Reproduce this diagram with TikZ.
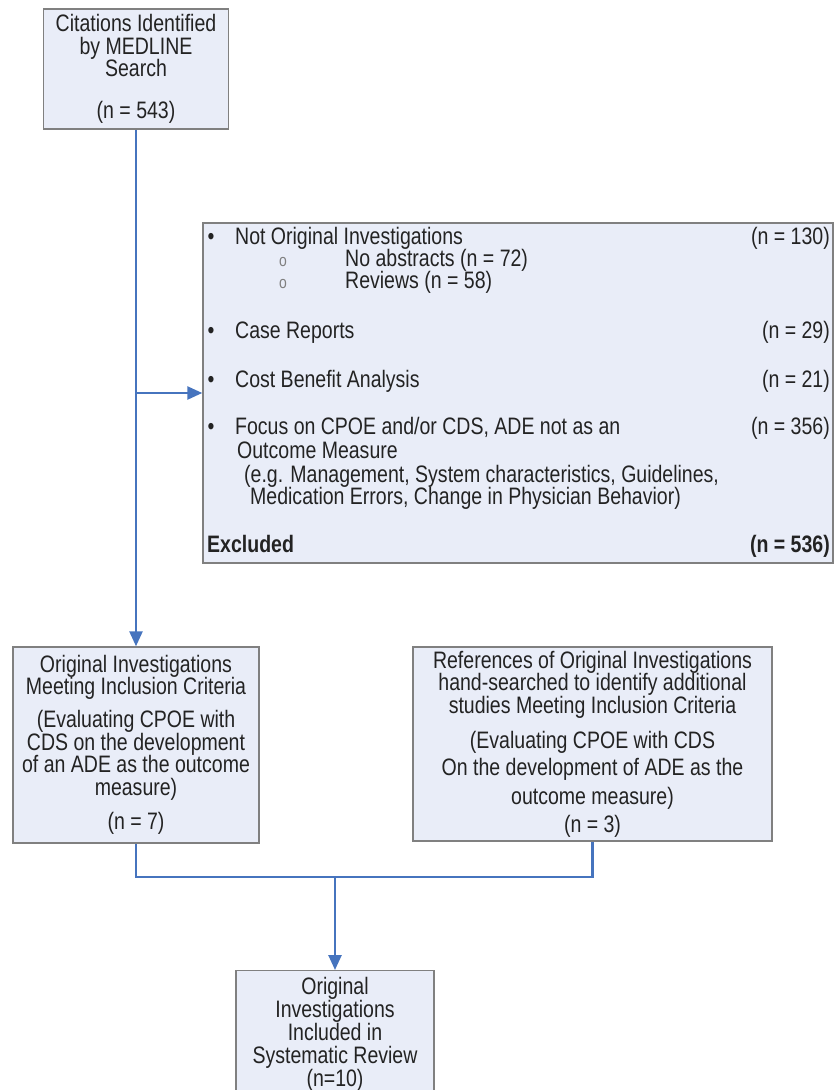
\documentclass[tikz,border=0pt]{standalone}
\usepackage{fontspec}
\setmainfont{Liberation Sans}[FakeStretch=0.82]
\definecolor{flowblue}{RGB}{70,116,190}
\definecolor{flowfill}{RGB}{233,237,248}
\definecolor{flowgray}{RGB}{128,128,128}
\definecolor{flowtext}{RGB}{35,35,35}
\usetikzlibrary{arrows.meta,positioning}

\begin{document}
\begin{tikzpicture}[x=1pt,y=-1pt,inner sep=0pt,text=flowtext,
  font=\fontsize{23.8}{22.5}\selectfont,
  box/.style={draw=flowgray,line width=1.4pt,fill=flowfill,align=center},
  link/.style={draw=flowblue,line width=2.5pt},
  arr/.style={link,-{Triangle[length=15pt,width=13pt]}}]
  \useasboundingbox (0,0) rectangle (834,1090);
  % search and exclusions
  \node[box,minimum width=185pt,minimum height=120pt] (search) at (136,69)
    {Citations Identified\\by MEDLINE\\Search\\[19.5pt](n = 543)};
  \node[box,minimum width=630pt,minimum height=340pt] (excluded) at (518,393) {};
  \foreach \i/\y/\txt/\n in {1/244/Not Original Investigations/130, 2/338/Case Reports/29,
      3/387/Cost Benefit Analysis/21, 4/434/{Focus on CPOE and/or CDS, ADE not as an}/356}{
    \node[anchor=base] (dot\i) at (211,\y) {•};
    \node[anchor=base west] (item\i) at (235,\y) {\txt};
    \node[anchor=base east] (count\i) at (830,\y) {(n = \n)};
  }
  \foreach \i/\y/\txt in {1/266/No abstracts (n = 72), 2/288/Reviews (n = 58)}{
    \node[anchor=base,font=\fontsize{17}{18}\selectfont,text=flowgray] (circ\i) at (283,\y) {o};
    \node[anchor=base west] (sub\i) at (345,\y) {\txt};
  }
  \node[anchor=base west] (item4b) at (237,458) {Outcome Measure};
  \node[anchor=base west] (item4c) at (244,482) {(e.g. Management, System characteristics, Guidelines,};
  \node[anchor=base west] (item4d) at (250,504) {Medication Errors, Change in Physician Behavior)};
  \node[anchor=base west,font=\fontsize{23.8}{22.5}\selectfont\bfseries] (total) at (207,552) {Excluded};
  \node[anchor=base east,font=\fontsize{23.8}{22.5}\selectfont\bfseries] (totaln) at (830,552) {(n = 536)};
  % included studies
  \node[box,minimum width=246pt,minimum height=196pt] (included) at (136,745)
    {Original Investigations\\Meeting Inclusion Criteria\\[10.5pt](Evaluating CPOE with\\CDS on the development\\of an ADE as the outcome\\measure)\\[12pt](n = 7)};
  \node[box,minimum width=359pt,minimum height=194pt] (handsearch) at (592.5,744)
    {References of Original Investigations\\hand-searched to identify additional\\studies Meeting Inclusion Criteria\\[12.5pt](Evaluating CPOE with CDS\\[4.5pt]On the development of ADE as the\\[6.5pt]outcome measure)\\[5.5pt](n = 3)};
  \node[box,minimum width=198pt,anchor=north,inner ysep=7pt,font=\fontsize{23.8}{23}\selectfont] (review) at (335,970)
    {Original\\Investigations\\Included in\\Systematic Review\\(n=10)};
  % connectors
  \coordinate (split) at (search.south |- excluded.west);
  \coordinate (joinrow) at (0,877);
  \coordinate (join) at (review.north |- joinrow);
  \draw[arr] (search.south) -- (included.north);
  \draw[arr] (split) -- (excluded.west);
  \draw[link] (included.south) |- (join) -| (handsearch.south);
  \draw[arr] (join) -- (review.north);
\end{tikzpicture}
\end{document}
